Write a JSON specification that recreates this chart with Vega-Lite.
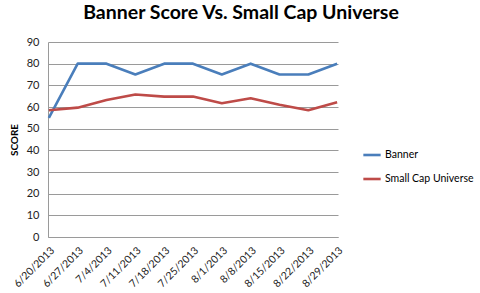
{
  "$schema": "https://vega.github.io/schema/vega-lite/v6.json",
  "autosize": "none",
  "width": 290,
  "height": 195,
  "padding": {"left": 48, "top": 42, "right": 142, "bottom": 56},
  "background": "white",
  "title": {"text": "Banner Score Vs. Small Cap Universe", "font": "Lato", "fontSize": 19.5, "fontWeight": "bold", "color": "#000000", "dx": 48, "offset": 13, "anchor": "middle"},
  "data": {"values": [
    {"date": "6/20/2013", "series": "Banner", "score": 55},
    {"date": "6/27/2013", "series": "Banner", "score": 80},
    {"date": "7/4/2013", "series": "Banner", "score": 80},
    {"date": "7/11/2013", "series": "Banner", "score": 75},
    {"date": "7/18/2013", "series": "Banner", "score": 80},
    {"date": "7/25/2013", "series": "Banner", "score": 80},
    {"date": "8/1/2013", "series": "Banner", "score": 75},
    {"date": "8/8/2013", "series": "Banner", "score": 80},
    {"date": "8/15/2013", "series": "Banner", "score": 75},
    {"date": "8/22/2013", "series": "Banner", "score": 75},
    {"date": "8/29/2013", "series": "Banner", "score": 80},
    {"date": "6/20/2013", "series": "Small Cap Universe", "score": 58.5},
    {"date": "6/27/2013", "series": "Small Cap Universe", "score": 59.7},
    {"date": "7/4/2013", "series": "Small Cap Universe", "score": 63.2},
    {"date": "7/11/2013", "series": "Small Cap Universe", "score": 65.8},
    {"date": "7/18/2013", "series": "Small Cap Universe", "score": 64.8},
    {"date": "7/25/2013", "series": "Small Cap Universe", "score": 64.8},
    {"date": "8/1/2013", "series": "Small Cap Universe", "score": 61.7},
    {"date": "8/8/2013", "series": "Small Cap Universe", "score": 64},
    {"date": "8/15/2013", "series": "Small Cap Universe", "score": 61},
    {"date": "8/22/2013", "series": "Small Cap Universe", "score": 58.5},
    {"date": "8/29/2013", "series": "Small Cap Universe", "score": 62.2}
  ]},
  "mark": {"type": "line", "strokeWidth": 2.6, "strokeJoin": "round"},
  "encoding": {
    "x": {"field": "date", "type": "ordinal", "sort": null,
      "scale": {"type": "point", "padding": 0.03},
      "axis": {"title": null, "labelAngle": -45, "labelAlign": "right", "labelBaseline": "top", "labelFont": "Lato", "labelFontSize": 10.5, "labelColor": "#222222", "domainColor": "#9A9A9A", "ticks": false, "labelPadding": 8, "grid": false}},
    "y": {"field": "score", "type": "quantitative",
      "scale": {"domain": [0, 90], "nice": false},
      "axis": {"title": "SCORE", "titleFont": "Lato", "titleFontSize": 10, "titleFontWeight": "bold", "titleColor": "#000000", "titlePadding": 7, "values": [0,10,20,30,40,50,60,70,80,90], "labelFont": "Lato", "labelFontSize": 11, "labelColor": "#222222", "ticks": false, "labelPadding": 9, "domainColor": "#9A9A9A", "gridColor": "#9A9A9A", "gridWidth": 1}},
    "color": {"field": "series", "type": "nominal",
      "scale": {"domain": ["Banner", "Small Cap Universe"], "range": ["#4A7EBB", "#BE4B48"]},
      "legend": {"title": null, "orient": "none", "legendX": 314, "legendY": 103, "symbolType": "stroke", "symbolStrokeWidth": 2.6, "symbolSize": 300, "labelFont": "Lato", "labelFontSize": 10.5, "labelColor": "#000000", "rowPadding": 8, "labelOffset": 3}}
  },
  "config": {"view": {"stroke": null}}
}
